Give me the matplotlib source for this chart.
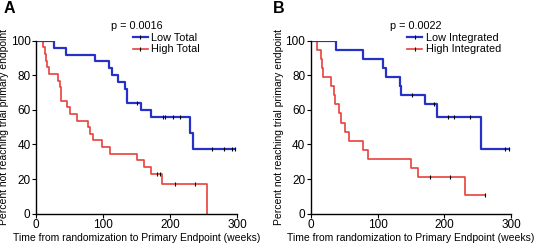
import numpy as np
import matplotlib
matplotlib.use("Agg")
import matplotlib.pyplot as plt
from matplotlib.lines import Line2D

plt.rcParams['font.family'] = ['Liberation Sans', 'DejaVu Sans']

# panel A - total
low_total_t = [0, 27, 45, 88, 109, 114, 122, 133, 136, 157, 171, 230, 234, 297]
low_total_s = [100, 96, 92, 88, 84, 80, 76, 72, 64, 60, 56, 46.7, 37.3, 37.3]
low_total_cens = [151, 190, 193, 205, 215, 262, 281, 292, 297]

high_total_t = [0, 11, 13, 15, 17, 19, 33, 36, 37, 38, 46, 51, 61, 78, 80, 85, 98, 110,
                150, 161, 172, 188, 255]
high_total_s = [100, 96.2, 92.3, 88.5, 84.6, 80.8, 76.9, 73.1, 69.2, 65.4, 61.5, 57.7, 53.8,
                50, 46.2, 42.3, 38.5, 34.6, 30.8, 26.9, 23.1, 17.3, 0]
high_total_cens = [180, 185, 208, 237]

# panel B - integrated
low_int_t = [0, 38, 78, 108, 113, 133, 135, 171, 189, 254, 297]
low_int_s = [100, 94.7, 89.5, 84.2, 78.9, 73.7, 68.4, 63.2, 56.1, 37.4, 37.4]
low_int_cens = [151, 185, 205, 215, 238, 290, 297]

high_int_t = [0, 10, 15, 17, 18, 31, 35, 36, 43, 46, 51, 58, 78, 85, 150, 161, 230, 260]
high_int_s = [100, 94.7, 89.5, 84.2, 78.9, 73.7, 68.4, 63.2, 57.9, 52.6, 47.4, 42.1, 36.8,
              31.6, 26.3, 21.05, 10.5, 10.5]
high_int_cens = [179, 208, 260]

blue = '#2631c8'
red = '#e8413c'


def surv_at(t, s, c):
    idx = np.searchsorted(t, c, side='right') - 1
    return np.array(s)[idx]


def km(ax, t, s, cens, color, lw):
    ax.step(t, s, where='post', color=color, lw=lw)
    ax.plot(cens, surv_at(t, s, cens), ls='none', marker='|', ms=2.5, mew=0.8, color='black')


fig = plt.figure(figsize=(5.38, 2.45), dpi=100)
axA = fig.add_axes([0.067, 0.128, 0.3735, 0.706])
axB = fig.add_axes([0.5775, 0.128, 0.3729, 0.706])

panels = [
    (axA, low_total_t, low_total_s, low_total_cens, high_total_t, high_total_s, high_total_cens,
     'Low Total', 'High Total', 'p = 0.0016', 'A', 0.255, 0.247, 0.006),
    (axB, low_int_t, low_int_s, low_int_cens, high_int_t, high_int_s, high_int_cens,
     'Low Integrated', 'High Integrated', 'p = 0.0022', 'B', 0.772, 0.757, 0.508),
]

for ax, lt, ls_, lc, ht, hs, hc, lab1, lab2, ptxt, letter, px, lx, ltx in panels:
    km(ax, ht, hs, hc, red, 1.2)
    km(ax, lt, ls_, lc, blue, 1.6)
    ax.set_xlim(0, 300)
    ax.set_ylim(0, 100)
    ax.set_xticks([0, 100, 200, 300])
    ax.set_yticks([0, 20, 40, 60, 80, 100])
    for sp in ['top', 'right']:
        ax.spines[sp].set_visible(False)
    for sp in ['left', 'bottom']:
        ax.spines[sp].set_linewidth(1.0)
    ax.tick_params(labelsize=8.5, length=3, width=0.8, pad=1)
    ax.set_xlabel('Time from randomization to Primary Endpoint (weeks)', fontsize=7.5, labelpad=1)
    ax.set_ylabel('Percent not reaching trial primary endpoint', fontsize=7.5, labelpad=1)
    handles = [Line2D([0], [0], color=blue, lw=1.6, marker='|', ms=2.5, mec='black', mew=0.8),
               Line2D([0], [0], color=red, lw=1.2, marker='|', ms=2.5, mec='black', mew=0.8)]
    fig.legend(handles, [lab1, lab2], loc='upper left', bbox_to_anchor=(lx, 0.866),
               frameon=False, fontsize=7.8, handlelength=1.4, handletextpad=0.3,
               labelspacing=0.15, borderpad=0, borderaxespad=0)
    fig.text(px, 0.894, ptxt, fontsize=7.8, ha='center', va='center')
    fig.text(ltx, 0.995, letter, fontsize=11.5, fontweight='bold', va='top', ha='left')

fig.savefig('out.png', dpi=100)
